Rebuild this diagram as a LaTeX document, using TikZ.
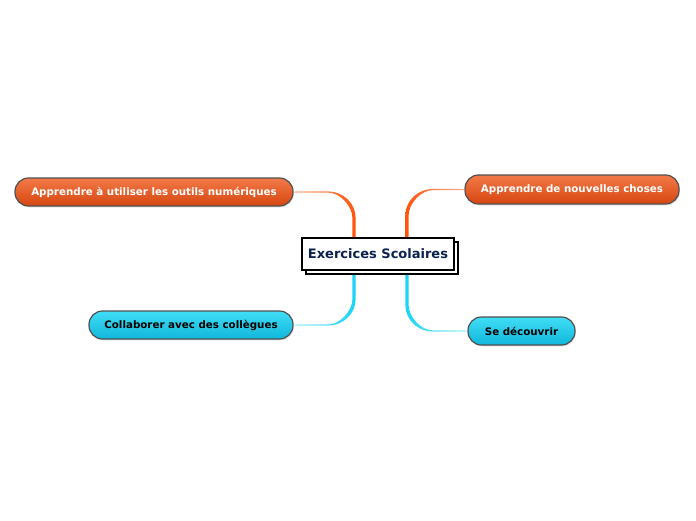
\documentclass[tikz,border=0pt]{standalone}
\usepackage{fontspec}
\setmainfont{DejaVu Sans}
\usetikzlibrary{calc,shadows}
\definecolor{orT}{HTML}{F27A48}
\definecolor{orB}{HTML}{D64610}
\definecolor{cyT}{HTML}{40DEF6}
\definecolor{cyB}{HTML}{10B6DA}
\definecolor{navy}{HTML}{0B2150}
\definecolor{bord}{HTML}{505050}
\definecolor{orL}{HTML}{F9B094}
\definecolor{orD}{HTML}{FF5208}
\definecolor{cyL}{HTML}{A8EEFA}
\definecolor{cyD}{HTML}{16D4F8}
\tikzset{
  topic/.style={draw=bord, line width=1.2pt, rounded corners=13.5pt, minimum height=28pt,
    inner sep=0pt, font=\bfseries\fontsize{10.3}{12}\selectfont,
    drop shadow={opacity=0.2, shadow xshift=0.8pt, shadow yshift=-1.5pt}},
  orangetopic/.style={topic, top color=orT, bottom color=orB, text=white},
  cyantopic/.style={topic, top color=cyT, bottom color=cyB, text=black},
  centerbox/.style={draw=black, line width=1.3pt, fill=white, minimum width=152pt,
    minimum height=32pt, inner sep=0pt},
  titletext/.style={font=\bfseries\fontsize{13}{15}\selectfont, text=navy},
}
% #1 node anchor, #2 corner, #3 center anchor, #4 sx, #5 sy, #6 shading options
\newcommand\taperconn[6]{%
  \shade[#6]
    ($(#1)+(0,{-(#5)*0.5})$)
    -- ($(#2)+({(#4)*26},{-(#5)*0.6})$)
    .. controls ($(#2)+({(#4)*11},{-(#5)*0.6})$) and ($(#2)+({-(#4)*1.6},{(#5)*11})$) ..
       ($(#2)+({-(#4)*1.6},{(#5)*26})$)
    -- ($(#3)+({-(#4)*1.6},0)$)
    -- ($(#3)+({(#4)*1.6},0)$)
    -- ($(#2)+({(#4)*1.6},{(#5)*26})$)
    .. controls ($(#2)+({(#4)*1.6},{(#5)*14})$) and ($(#2)+({(#4)*14},{(#5)*0.6})$) ..
       ($(#2)+({(#4)*26},{(#5)*0.6})$)
    -- ($(#1)+(0,{(#5)*0.5})$) -- cycle;}
\begin{document}
\begin{tikzpicture}[x=1pt,y=-1pt]
\useasboundingbox (0,0) rectangle (696,520);
% topics
\node[orangetopic, minimum width=278pt] (tl) at (154,192) {Apprendre à utiliser les outils numériques};
\node[orangetopic, minimum width=214pt, minimum height=29pt] (tr) at (572,189.5) {Apprendre de nouvelles choses};
\node[cyantopic, minimum width=204pt] (bl) at (191,325) {Collaborer avec des collègues};
\node[cyantopic, minimum width=107pt] (br) at (521.5,331) {Se découvrir};
% center position helpers
\coordinate (cc) at (378,254);
\coordinate (tlc) at ($(cc)+(-24,-14)$);
\coordinate (trc) at ($(cc)+(29,-14)$);
\coordinate (blc) at ($(cc)+(-24,14)$);
\coordinate (brc) at ($(cc)+(29,14)$);
\coordinate (tlk) at (tlc |- tl.east);
\coordinate (trk) at (trc |- tr.west);
\coordinate (blk) at (blc |- bl.east);
\coordinate (brk) at (brc |- br.west);
% connectors
\taperconn{tl.east}{tlk}{tlc}{-1}{1}{left color=orL, right color=orD}
\taperconn{tr.west}{trk}{trc}{1}{1}{left color=orD, right color=orL}
\taperconn{bl.east}{blk}{blc}{-1}{-1}{left color=cyL, right color=cyD}
\taperconn{br.west}{brk}{brc}{1}{-1}{left color=cyD, right color=cyL}
% center
\node[centerbox] (cs) at ($(cc)+(4,4)$) {};
\node[centerbox, titletext] (c) at (cc) {Exercices Scolaires};
\end{tikzpicture}
\end{document}
